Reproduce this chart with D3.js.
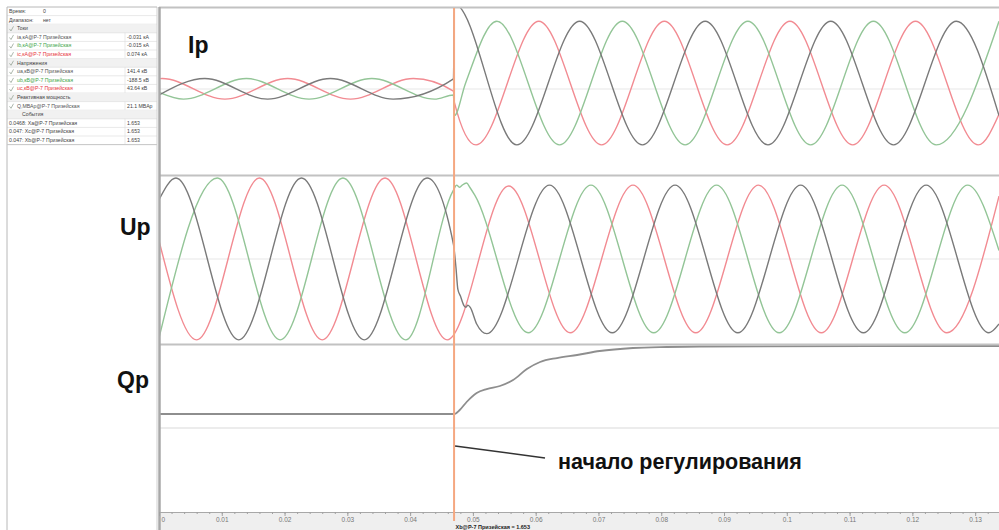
<!DOCTYPE html>
<html>
<head>
<meta charset="utf-8">
<script src="https://cdn.jsdelivr.net/npm/d3@7"></script>
<style>
  body { margin: 0; background: #fff; }
  svg { display: block; font-family: "Liberation Sans", Arial, sans-serif; }
</style>
</head>
<body>
<svg id="chart" width="999" height="530"></svg>
<script>
// --- data: [time s, value] ---
// currents, kA
const ipBlack = [[0, -0.045], [0.0073, 0.079], [0.0173, -0.076], [0.0273, 0.079], [0.0373, -0.076], [0.0469, 0.076],
  [0.04705, 0.64], [0.057, -0.42], [0.067, 0.51], [0.077, -0.42], [0.087, 0.51], [0.097, -0.42], [0.107, 0.51],
  [0.117, -0.42], [0.127, 0.51], [0.1338, -0.2]];
const ipGreen = [[0, -0.025], [0.0039, -0.076], [0.0139, 0.079], [0.0239, -0.076], [0.0339, 0.079], [0.0439, -0.076],
  [0.0469, -0.045], [0.04705, -0.2], [0.0488, 0.04], [0.0538, 0.51], [0.0638, -0.42], [0.0738, 0.51], [0.0838, -0.42],
  [0.0938, 0.51], [0.1038, -0.42], [0.1138, 0.51], [0.1238, -0.42], [0.1338, 0.51]];
const ipRed = [[0, 0.078], [0.0005, 0.079], [0.0105, -0.076], [0.0205, 0.079], [0.0305, -0.076], [0.0405, 0.079],
  [0.0469, -0.015], [0.04705, -0.1], [0.0505, -0.42], [0.0605, 0.51], [0.0705, -0.42], [0.0805, 0.51], [0.0905, -0.42],
  [0.1005, 0.51], [0.1105, -0.42], [0.1205, 0.51], [0.1305, -0.42], [0.1338, -0.19]];

// voltages, kV
const upBlack = [[0, 141.4], [0.0027, 193], [0.0127, -193], [0.0227, 193], [0.0327, -193], [0.0427, 193], [0.0469, 35],
  [0.0473, -20], [0.0476, -72], [0.048, -88], [0.0486, -112], [0.0489, -115], [0.0492, -110], [0.0496, -116],
  [0.0506, -155], [0.0522, -178], [0.0622, 176], [0.0722, -176], [0.0822, 176], [0.0922, -176], [0.1022, 176],
  [0.1122, -176], [0.1222, 176], [0.1322, -176], [0.1338, -155]];
const upGreen = [[0, -188.5], [0.0093, 193], [0.0193, -193], [0.0293, 193], [0.0393, -193], [0.0469, 164],
  [0.0474, 176], [0.0479, 171], [0.0483, 176], [0.049, 181], [0.0495, 171], [0.0503, 152], [0.0588, -176],
  [0.0688, 176], [0.0788, -176], [0.0888, 176], [0.0988, -176], [0.1088, 176], [0.1188, -176], [0.1288, 176],
  [0.1338, 20]];
const upRed = [[0, 43.64], [0.006, -193], [0.016, 193], [0.026, -193], [0.036, 193], [0.0459, -193], [0.0557, 174],
  [0.0655, -176], [0.0755, 176], [0.0855, -176], [0.0955, 176], [0.1055, -176], [0.1155, 176], [0.1255, -176],
  [0.1338, 150]];

// reactive power, Mvar
const qp = [[0, 21.1], [0.047, 21.1], [0.0479, 29.3], [0.049, 45.8], [0.0506, 64.3], [0.0522, 72.5], [0.0543, 78.7],
  [0.0564, 91.1], [0.0586, 113.7], [0.0607, 128.1], [0.0634, 136.3], [0.0666, 142.5], [0.0702, 150.7],
  [0.0755, 156.9], [0.0809, 159], [0.0861, 160], [0.1338, 161]];

const timeTicks = [0, 0.01, 0.02, 0.03, 0.04, 0.05, 0.06, 0.07, 0.08, 0.09, 0.1, 0.11, 0.12, 0.13];
const eventTime = 0.047;

// legend / value table on the left
const tableRows = [
  { label: "Время:", value: "0", kind: "info" },
  { label: "Диапазон:", value: "нет", kind: "info" },
  { label: "Токи", kind: "group" },
  { label: "ia,кА@P-7 Призейская", value: "-0.031 кА", color: "#555" },
  { label: "ib,кА@P-7 Призейская", value: "-0.015 кА", color: "#3fa64a" },
  { label: "ic,кА@P-7 Призейская", value: "0.074 кА", color: "#e8333b" },
  { label: "Напряжения", kind: "group" },
  { label: "ua,кВ@P-7 Призейская", value: "141.4 кВ", color: "#555" },
  { label: "ub,кВ@P-7 Призейская", value: "-188.5 кВ", color: "#3fa64a" },
  { label: "uc,кВ@P-7 Призейская", value: "43.64 кВ", color: "#e8333b" },
  { label: "Реактивная мощность", kind: "group" },
  { label: "Q,МВАр@P-7 Призейская", value: "21.1 МВАр", color: "#555" },
  { label: "События", kind: "events" },
  { label: "0.0468: Xa@P-7 Призейская", value: "1.653", kind: "event" },
  { label: "0.047: Xc@P-7 Призейская", value: "1.653", kind: "event" },
  { label: "0.047: Xb@P-7 Призейская", value: "1.653", kind: "event" }
];

const colors = { black: "#7a7a7a", green: "#93c597", red: "#f28b92", q: "#8e8e8e" };

const svg = d3.select("#chart");
const plotLeft = 159, plotRight = 999, axisY = 512;

// time scale shared by all panels
const x = d3.scaleLinear().domain([0, 0.1338]).range([plotLeft, plotRight]);

const panels = [
  { id: "ip", top: 7.5, bottom: 175.5, y: d3.scaleLinear().domain([-0.65, 0.613]).range([175.5, 7.5]),
    series: [[ipRed, colors.red], [ipGreen, colors.green], [ipBlack, colors.black]], label: "Ip", lx: 188, ly: 53, zero: true },
  { id: "up", top: 175.5, bottom: 344.5, y: d3.scaleLinear().domain([-204, 199]).range([344.5, 175.5]),
    series: [[upRed, colors.red], [upGreen, colors.green], [upBlack, colors.black]], label: "Up", lx: 120, ly: 235, zero: true },
  { id: "qp", top: 344.5, bottom: 428, y: d3.scaleLinear().domain([-7.7, 164.1]).range([428, 344.5]),
    series: [[qp, colors.q]], label: "Qp", lx: 117, ly: 388, zero: false }
];

// gray strip under the time axis
svg.append("rect")
  .attr("x", plotLeft).attr("y", axisY)
  .attr("width", plotRight - plotLeft).attr("height", 530 - axisY)
  .attr("fill", "#efefef");

const defs = svg.append("defs");

panels.forEach(p => {
  defs.append("clipPath").attr("id", "clip-" + p.id)
    .append("rect")
    .attr("x", plotLeft + 1).attr("y", p.top)
    .attr("width", plotRight - plotLeft).attr("height", p.bottom - p.top);

  if (p.zero) {
    svg.append("line")
      .attr("x1", plotLeft).attr("x2", plotRight)
      .attr("y1", p.y(0)).attr("y2", p.y(0))
      .attr("stroke", "#efefef").attr("stroke-width", 1.5);
  }

  const line = d3.line()
    .x(d => x(d[0]))
    .y(d => p.y(d[1]))
    .curve(d3.curveMonotoneX);

  const g = svg.append("g").attr("clip-path", `url(#clip-${p.id})`);
  g.selectAll("path")
    .data(p.series)
    .join("path")
    .attr("d", d => line(d[0]))
    .attr("fill", "none")
    .attr("stroke", d => d[1])
    .attr("stroke-width", p.id === "qp" ? 1.8 : 1.4)
    .attr("stroke-linejoin", "round");

  svg.append("text")
    .attr("x", p.lx).attr("y", p.ly)
    .attr("font-size", 23).attr("font-weight", "bold")
    .attr("fill", "#111")
    .text(p.label);
});

// panel borders
[7.5, 175.5, 344.5].forEach(yy => {
  svg.append("line")
    .attr("x1", plotLeft).attr("x2", plotRight).attr("y1", yy).attr("y2", yy)
    .attr("stroke", "#c2c2c2").attr("stroke-width", 2);
});
svg.append("line")
  .attr("x1", plotLeft).attr("x2", plotRight).attr("y1", 428).attr("y2", 428)
  .attr("stroke", "#e6e6e6").attr("stroke-width", 1.5);
svg.append("line")
  .attr("x1", plotLeft + 0.5).attr("x2", plotLeft + 0.5).attr("y1", 7).attr("y2", 530)
  .attr("stroke", "#a8a8a8").attr("stroke-width", 2.5);

// time axis
const minorTicks = d3.range(0, 0.134, 0.002);
const minorAxis = d3.axisBottom(x).tickValues(minorTicks).tickSize(2).tickSizeOuter(0).tickFormat("");
const majorAxis = d3.axisBottom(x).tickValues(timeTicks).tickSize(4).tickSizeOuter(0)
  .tickFormat(d => String(+d.toFixed(2)));

svg.append("g").attr("transform", `translate(0,${axisY})`).call(minorAxis)
  .call(g => g.selectAll("line").attr("stroke", "#a0a0a0"))
  .call(g => g.select(".domain").attr("stroke", "#a8a8a8"));
const ax = svg.append("g").attr("transform", `translate(0,${axisY})`).call(majorAxis);
ax.select(".domain").remove();
ax.selectAll("line").attr("stroke", "#a0a0a0");
ax.selectAll("text")
  .attr("font-size", 6.5).attr("fill", "#777").attr("y", 5)
  .attr("font-family", "Liberation Sans, Arial, sans-serif");
ax.selectAll("text").filter(d => d === 0).attr("text-anchor", "start").attr("x", 2);

// event cursor
const ex = x(eventTime);
svg.append("line")
  .attr("x1", ex).attr("x2", ex).attr("y1", 8).attr("y2", 521)
  .attr("stroke", "#f5a881").attr("stroke-width", 2);
svg.append("text")
  .attr("x", ex + 1.5).attr("y", 528.5)
  .attr("font-size", 5.5).attr("font-weight", "bold").attr("fill", "#222")
  .text("Xb@P-7 Призейская = 1.653");

// annotation
svg.append("line")
  .attr("x1", ex + 1).attr("y1", 446).attr("x2", 545).attr("y2", 458)
  .attr("stroke", "#333").attr("stroke-width", 1.5);
svg.append("text")
  .attr("x", 558).attr("y", 469)
  .attr("font-size", 21.5).attr("font-weight", "bold").attr("fill", "#111")
  .text("начало регулирования");

// left value table
const rowH = 8.6, tableTop = 7, tableLeft = 7, valX = 127, tableRight = 157;
const table = svg.append("g").attr("font-size", 5.2);

svg.append("line")
  .attr("x1", tableLeft).attr("x2", tableLeft).attr("y1", tableTop).attr("y2", 530)
  .attr("stroke", "#b8b8b8");
svg.append("line")
  .attr("x1", tableRight).attr("x2", tableRight).attr("y1", tableTop).attr("y2", 530)
  .attr("stroke", "#d0d0d0");
svg.append("line")
  .attr("x1", tableLeft).attr("x2", tableRight).attr("y1", tableTop).attr("y2", tableTop)
  .attr("stroke", "#b8b8b8");

const row = table.selectAll("g")
  .data(tableRows)
  .join("g")
  .attr("transform", (d, i) => `translate(0,${tableTop + i * rowH})`);

row.filter(d => d.kind === "group" || d.kind === "events")
  .append("rect")
  .attr("x", tableLeft + 0.5).attr("width", tableRight - tableLeft - 1).attr("height", rowH)
  .attr("fill", "#f1f1f1");

row.append("line")
  .attr("x1", tableLeft).attr("x2", tableRight).attr("y1", rowH).attr("y2", rowH)
  .attr("stroke", "#e0e0e0").attr("stroke-width", 0.7);

row.filter(d => d.value !== undefined && d.kind !== "info")
  .append("line")
  .attr("x1", valX - 2).attr("x2", valX - 2).attr("y1", 0).attr("y2", rowH)
  .attr("stroke", "#e0e0e0").attr("stroke-width", 0.7);

// check marks for channel rows
row.filter(d => d.kind === undefined || d.kind === "group")
  .append("path")
  .attr("d", `M${tableLeft + 2.5},${rowH * 0.55} L${tableLeft + 4},${rowH * 0.78} L${tableLeft + 6.5},${rowH * 0.25}`)
  .attr("fill", "none").attr("stroke", "#8a9a8a").attr("stroke-width", 0.7);

row.append("text")
  .attr("x", d => d.kind === "events" ? 22 : (d.kind === "info" || d.kind === "event") ? tableLeft + 2 : tableLeft + 10)
  .attr("y", rowH * 0.7)
  .attr("fill", d => d.color || "#444")
  .text(d => d.label);

row.filter(d => d.value !== undefined)
  .append("text")
  .attr("x", d => d.kind === "info" ? 43 : valX)
  .attr("y", rowH * 0.7)
  .attr("fill", "#444")
  .text(d => d.value);

svg.append("line")
  .attr("x1", tableLeft).attr("x2", tableRight)
  .attr("y1", tableTop + tableRows.length * rowH).attr("y2", tableTop + tableRows.length * rowH)
  .attr("stroke", "#c8c8c8");
</script>
</body>
</html>
